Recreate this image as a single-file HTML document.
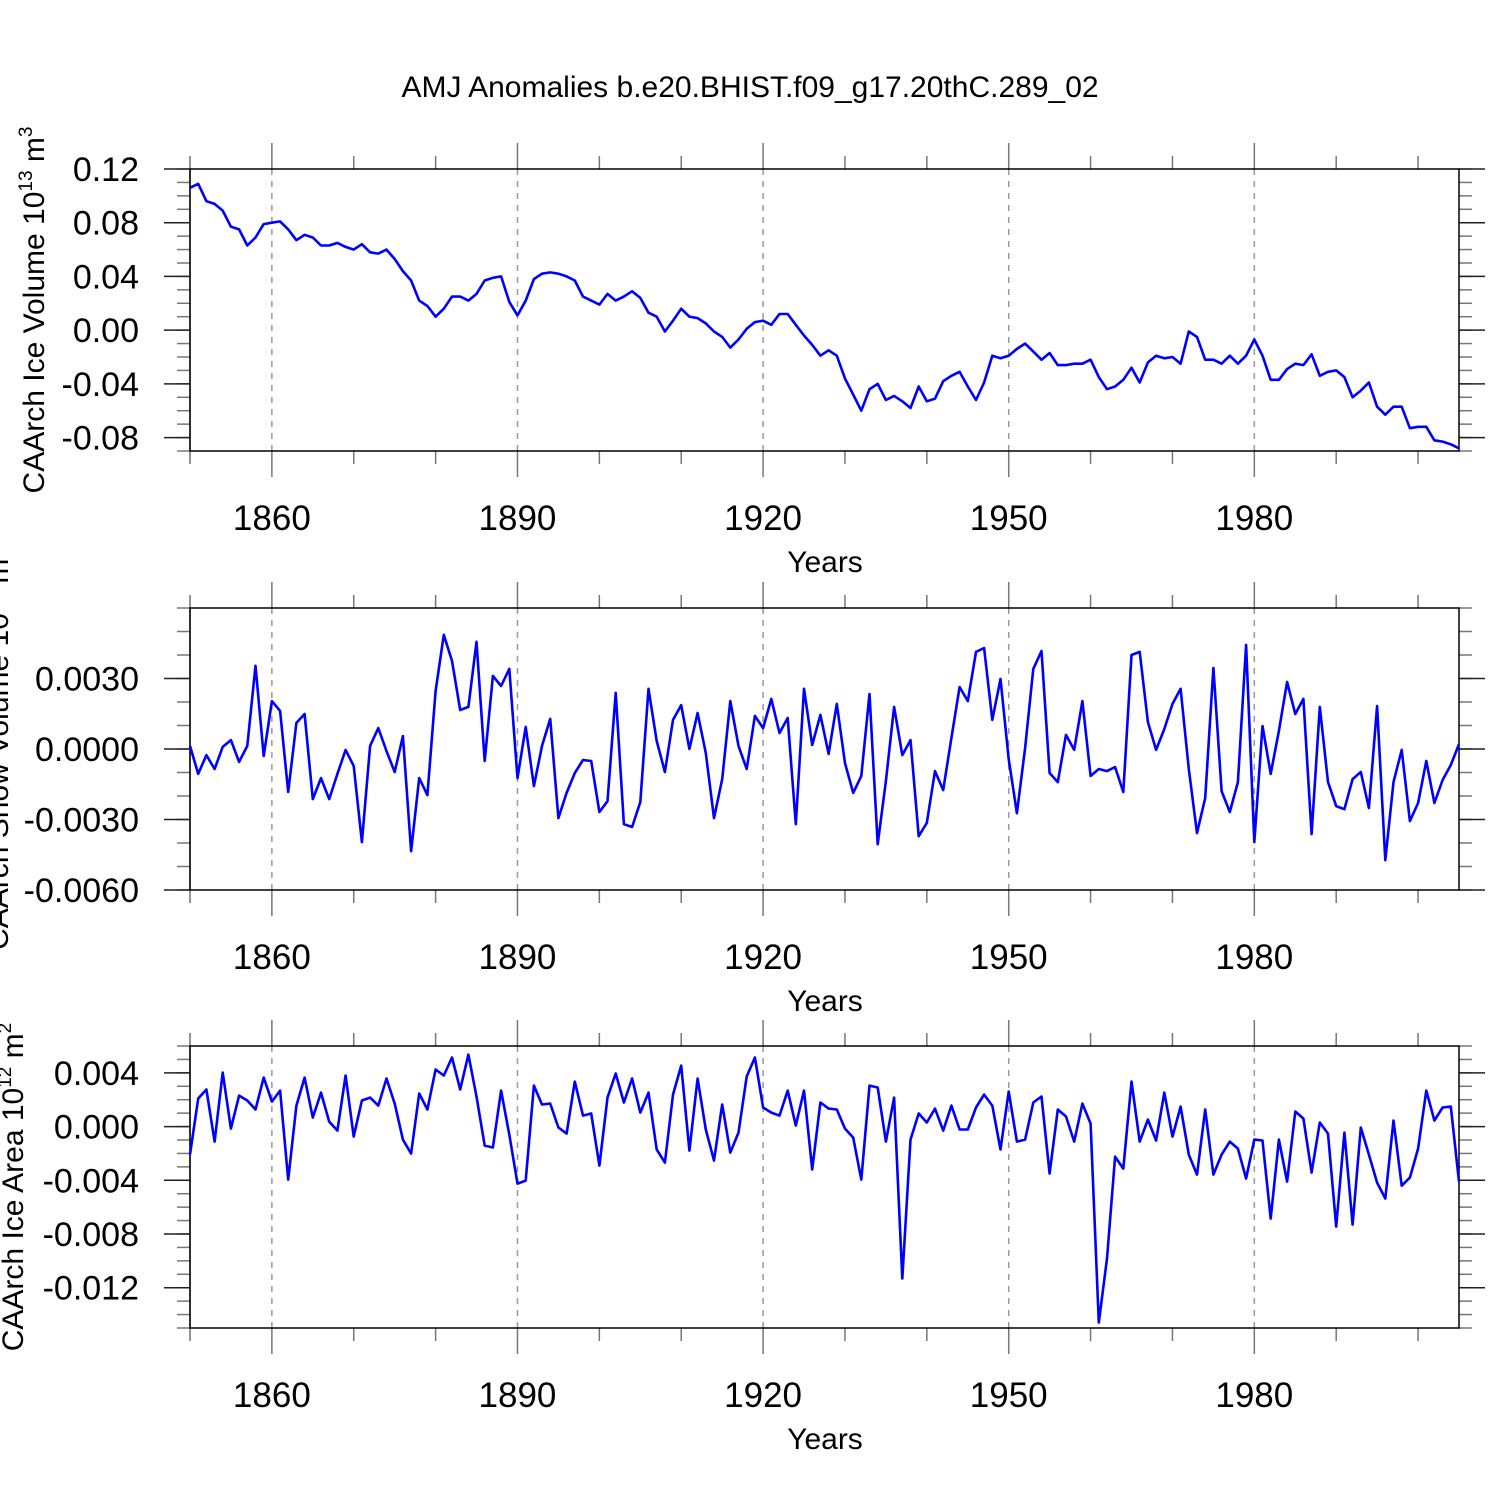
<!DOCTYPE html>
<html><head><meta charset="utf-8"><style>
html,body{margin:0;padding:0;background:#fff;}
svg{display:block;font-family:"Liberation Sans",sans-serif;}
</style></head><body>
<svg id="chart" width="1500" height="1500" viewBox="0 0 1500 1500" xmlns="http://www.w3.org/2000/svg">
<rect width="1500" height="1500" fill="#fff"/>
<text x="750" y="97" font-size="30" text-anchor="middle">AMJ Anomalies b.e20.BHIST.f09_g17.20thC.289_02</text>
</svg>
<script>
const startYear = 1850;
const xMajorTicks = [1860, 1890, 1920, 1950, 1980];
const xMinorTicks = [1850,1870,1880,1900,1910,1930,1940,1960,1970,1990,2000];
const iceVolume = [0.106,0.109,0.096,0.094,0.089,0.077,0.075,0.063,0.069,0.079,0.080,0.081,0.075,0.067,0.071,0.069,0.063,0.063,0.065,0.062,0.060,0.064,0.058,0.057,0.060,0.053,0.044,0.037,0.022,0.018,0.010,0.016,0.025,0.025,0.022,0.027,0.037,0.039,0.040,0.021,0.011,0.022,0.038,0.042,0.043,0.042,0.040,0.037,0.025,0.022,0.019,0.027,0.022,0.025,0.029,0.024,0.013,0.010,-0.001,0.007,0.016,0.010,0.009,0.005,-0.001,-0.005,-0.013,-0.007,0.001,0.006,0.007,0.004,0.012,0.012,0.004,-0.004,-0.011,-0.019,-0.015,-0.019,-0.036,-0.048,-0.060,-0.044,-0.040,-0.052,-0.049,-0.053,-0.058,-0.042,-0.053,-0.051,-0.038,-0.034,-0.031,-0.042,-0.052,-0.039,-0.019,-0.021,-0.019,-0.014,-0.010,-0.016,-0.022,-0.017,-0.026,-0.026,-0.025,-0.025,-0.022,-0.035,-0.044,-0.042,-0.037,-0.028,-0.039,-0.024,-0.019,-0.021,-0.020,-0.025,-0.001,-0.005,-0.022,-0.022,-0.025,-0.019,-0.025,-0.019,-0.007,-0.019,-0.037,-0.037,-0.029,-0.025,-0.026,-0.018,-0.034,-0.031,-0.030,-0.035,-0.050,-0.045,-0.039,-0.057,-0.063,-0.057,-0.057,-0.073,-0.072,-0.072,-0.082,-0.083,-0.085,-0.088];
const snowVolume = [0.00013,-0.00106,-0.00026,-0.00085,0.00009,0.00038,-0.00055,0.00013,0.00354,-0.00030,0.00204,0.00162,-0.00183,0.00111,0.00149,-0.00213,-0.00124,-0.00213,-0.00106,-0.00004,-0.00072,-0.00396,0.00013,0.00089,-0.00009,-0.00098,0.00055,-0.00435,-0.00124,-0.00196,0.00247,0.00486,0.00375,0.00166,0.00179,0.00456,-0.00051,0.00311,0.00268,0.00341,-0.00124,0.00094,-0.00158,0.00013,0.00128,-0.00294,-0.00187,-0.00102,-0.00047,-0.00051,-0.00268,-0.00222,0.00239,-0.00320,-0.00332,-0.00226,0.00256,0.00034,-0.00098,0.00124,0.00187,0,0.00153,-0.00017,-0.00294,-0.00128,0.00204,0.00013,-0.00085,0.00141,0.00089,0.00213,0.00068,0.00132,-0.00320,0.00256,0.00017,0.00145,-0.00021,0.00192,-0.00060,-0.00187,-0.00115,0.00234,-0.00405,-0.00136,0.00179,-0.00026,0.00038,-0.00371,-0.00315,-0.00094,-0.00175,0.00047,0.00264,0.00204,0.00413,0.00430,0.00124,0.00298,-0.00043,-0.00273,0.00004,0.00341,0.00417,-0.00102,-0.00141,0.00060,-0.00004,0.00204,-0.00115,-0.00085,-0.00094,-0.00077,-0.00183,0.00400,0.00413,0.00115,-0.00004,0.00085,0.00192,0.00256,-0.00085,-0.00358,-0.00209,0.00345,-0.00179,-0.00268,-0.00141,0.00443,-0.00396,0.00098,-0.00106,0.00077,0.00285,0.00149,0.00213,-0.00362,0.00179,-0.00141,-0.00243,-0.00256,-0.00128,-0.00098,-0.00251,0.00183,-0.00473,-0.00141,-0.00004,-0.00307,-0.00230,-0.00051,-0.00230,-0.00132,-0.00068,0.00021];
const iceArea = [-0.00209,0.00209,0.00276,-0.00112,0.00402,-0.00015,0.00231,0.00194,0.00127,0.00365,0.00186,0.00268,-0.00395,0.00156,0.00365,0.00067,0.00253,0.00037,-0.00030,0.00380,-0.00075,0.00194,0.00216,0.00156,0.00358,0.00171,-0.00097,-0.00201,0.00246,0.00127,0.00425,0.00380,0.00514,0.00276,0.00536,0.00224,-0.00142,-0.00156,0.00268,-0.00060,-0.00425,-0.00402,0.00305,0.00164,0.00171,-0.00007,-0.00052,0.00335,0.00082,0.00097,-0.00291,0.00216,0.00395,0.00179,0.00358,0.00104,0.00253,-0.00171,-0.00268,0.00238,0.00454,-0.00179,0.00358,-0.00022,-0.00253,0.00164,-0.00194,-0.00045,0.00373,0.00514,0.00142,0.00104,0.00082,0.00268,0.00007,0.00268,-0.00320,0.00179,0.00134,0.00127,-0.00015,-0.00082,-0.00395,0.00305,0.00291,-0.00112,0.00216,-0.01132,-0.00097,0.00097,0.00030,0.00134,-0.00030,0.00156,-0.00022,-0.00022,0.00142,0.00238,0.00156,-0.00171,0.00261,-0.00112,-0.00097,0.00179,0.00224,-0.00350,0.00127,0.00075,-0.00112,0.00171,0.00022,-0.01460,-0.00983,-0.00224,-0.00313,0.00335,-0.00112,0.00052,-0.00104,0.00253,-0.00075,0.00149,-0.00209,-0.00358,0.00127,-0.00358,-0.00209,-0.00112,-0.00164,-0.00387,-0.00097,-0.00104,-0.00685,-0.00097,-0.00410,0.00112,0.00060,-0.00343,0.00030,-0.00052,-0.00745,-0.00045,-0.00730,-0.00007,-0.00209,-0.00417,-0.00536,0.00045,-0.00440,-0.00380,-0.00164,0.00268,0.00045,0.00142,0.00149,-0.00410];
const p1Ticks = [0.12,0.08,0.04,0.00,-0.04,-0.08];
const p1Labels = ["0.12","0.08","0.04","0.00","-0.04","-0.08"];
const p2Ticks = [0.003,0,-0.003,-0.006];
const p2Labels = ["0.0030","0.0000","-0.0030","-0.0060"];
const p3Ticks = [0.004,0,-0.004,-0.008,-0.012];
const p3Labels = ["0.004","0.000","-0.004","-0.008","-0.012"];

const NS = "http://www.w3.org/2000/svg";
const svg = document.getElementById('chart');
const X0 = 190, X1 = 1459, PXY = (X1 - X0) / 155;
function xs(yr){ return X0 + (yr - startYear) * PXY; }
function mk(tag, attrs, parent){ const e = document.createElementNS(NS, tag); for (const k in attrs) e.setAttribute(k, attrs[k]); (parent||svg).appendChild(e); return e; }

function panel(cfg){
  const g = mk('g', {});
  
  
  const T = cfg.top, B = cfg.top + 282;
  const ys = v => T + (cfg.max - v) / (cfg.max - cfg.min) * (B - T);
  xMajorTicks.forEach(yr => {
    const l = mk('line', {x1: xs(yr), x2: xs(yr), y1: T, y2: B, stroke: '#999', 'stroke-width': 1.5, 'stroke-dasharray': '6,6'}, g);
    
    
  });
  for (let v = cfg.min; v <= cfg.max + 1e-9; v += cfg.minor) {
    const y = ys(v);
    mk('line', {x1: X0 - 13, x2: X0, y1: y, y2: y, stroke: '#777', 'stroke-width': 1.5}, g);
    mk('line', {x1: X1, x2: X1 + 13, y1: y, y2: y, stroke: '#777', 'stroke-width': 1.5}, g);
  }
  cfg.ticks.forEach((v, i) => {
    const y = ys(v);
    mk('line', {x1: X0 - 26, x2: X0, y1: y, y2: y, stroke: '#222', 'stroke-width': 1.5}, g);
    mk('line', {x1: X1, x2: X1 + 26, y1: y, y2: y, stroke: '#222', 'stroke-width': 1.5}, g);
    const t = mk('text', {x: 139, y: y + 12, 'font-size': 34, 'text-anchor': 'end'}, g);
    t.textContent = cfg.labels[i];
    
    
  });
  xMinorTicks.forEach(yr => { mk('line', {x1: xs(yr), x2: xs(yr), y1: B, y2: B + 13, stroke: '#777', 'stroke-width': 1.5}, g); mk('line', {x1: xs(yr), x2: xs(yr), y1: T - 13, y2: T, stroke: '#777', 'stroke-width': 1.5}, g); });
  xMajorTicks.forEach(yr => {
    mk('line', {x1: xs(yr), x2: xs(yr), y1: B, y2: B + 26, stroke: '#777', 'stroke-width': 1.5}, g);
    mk('line', {x1: xs(yr), x2: xs(yr), y1: T - 26, y2: T, stroke: '#777', 'stroke-width': 1.5}, g);
    const t = mk('text', {x: xs(yr), y: B + 79, 'font-size': 35, 'text-anchor': 'middle'}, g);
    t.textContent = yr;
    
    
  });
  mk('line', {x1: X0, x2: X0, y1: T - 13, y2: B + 13, stroke: '#888', 'stroke-width': 1.5}, g);
  mk('rect', {x: X0, y: T, width: X1 - X0, height: B - T, fill: 'none', stroke: '#000', 'stroke-width': 1.5}, g);
  const pts = cfg.data.map((v, i) => xs(startYear + i).toFixed(1) + ',' + ys(v).toFixed(1)).join(' ');
  const pl = mk('polyline', {points: pts, fill: 'none', stroke: '#0000ff', 'stroke-width': 2.6, 'stroke-linejoin': 'round'}, g);
  
  
  const xt = mk('text', {x: 825, y: B + 121, 'font-size': 30, 'text-anchor': 'middle'}, g);
  xt.textContent = 'Years';
  
  
  const cy = (T + B) / 2;
  const yt = mk('text', {x: 0, y: 0, 'font-size': 30, 'text-anchor': 'middle', transform: 'translate(' + cfg.ytx + ',' + cy + ') rotate(-90)'}, g);
  
  
  yt.appendChild(document.createTextNode(cfg.ytitle + ' 10'));
  const s1 = mk('tspan', {dy: -12, 'font-size': 19}, yt); s1.textContent = cfg.exp;
  const s2 = mk('tspan', {dy: 12}, yt); s2.textContent = ' m';
  const s3 = mk('tspan', {dy: -12, 'font-size': 19}, yt); s3.textContent = cfg.unitExp;
}

panel({name: 'ice-volume-panel', top: 169, max: 0.12, min: -0.09, minor: 0.01, ticks: p1Ticks, labels: p1Labels, data: iceVolume, ytitle: 'CAArch Ice Volume', exp: '13', unitExp: '3', ytx: 44});
panel({name: 'snow-volume-panel', top: 608, max: 0.006, min: -0.006, minor: 0.001, ticks: p2Ticks, labels: p2Labels, data: snowVolume, ytitle: 'CAArch Snow Volume', exp: '13', unitExp: '3', ytx: 8});
panel({name: 'ice-area-panel', top: 1046, max: 0.006, min: -0.015, minor: 0.001, ticks: p3Ticks, labels: p3Labels, data: iceArea, ytitle: 'CAArch Ice Area', exp: '12', unitExp: '2', ytx: 23});
</script>
</body></html>
